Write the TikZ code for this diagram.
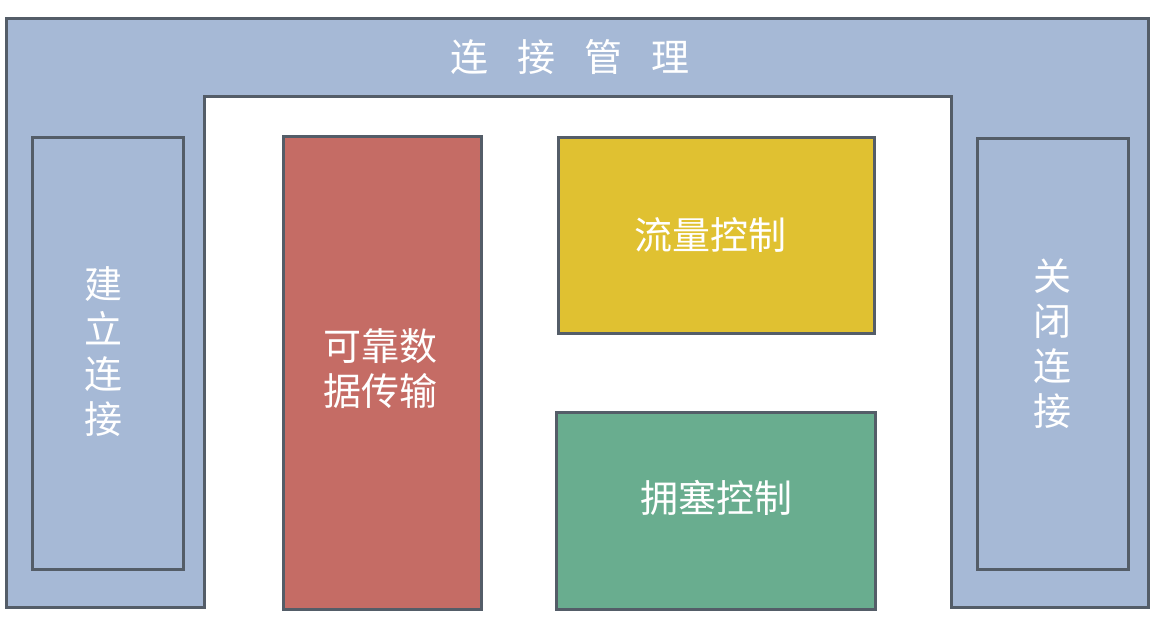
\documentclass[tikz,border=0pt]{standalone}
\usepackage{fontspec}
\setmainfont{Noto Sans CJK SC}
\definecolor{mgmtblue}{HTML}{A6B9D6}
\definecolor{edge}{HTML}{545D68}
\definecolor{relred}{HTML}{C56C65}
\definecolor{flowyel}{HTML}{E0C131}
\definecolor{conggreen}{HTML}{69AD8F}
\tikzset{
  box/.style={draw=edge, line width=3pt, text=white, inner sep=0pt, anchor=north west},
  lbl/.style={text=white, font=\fontsize{38}{45}\selectfont, align=center, inner sep=0pt}
}
\begin{document}
\begin{tikzpicture}[x=1pt,y=-1pt]
\useasboundingbox (0,0) rectangle (1155,631);
% connection management frame
\draw[fill=mgmtblue, draw=edge, line width=3pt, line join=miter]
  (6,19) -- (1148,19) -- (1148,607) -- (951,607) -- (951,97) -- (204,97) -- (204,607) -- (6,607) -- cycle;
\node[lbl] (title) at (570,57) {连\hspace{29pt}接\hspace{29pt}管\hspace{29pt}理};
% inner boxes
\node[box, fill=mgmtblue, minimum width=151pt, minimum height=432pt] (open) at (31,136) {};
\node[lbl] (openl) at (103,352) {建\\立\\连\\接};
\node[box, fill=mgmtblue, minimum width=151pt, minimum height=431pt] (close) at (976,137) {};
\node[lbl] (closel) at (1052,344) {关\\闭\\连\\接};
\node[box, fill=relred, minimum width=198pt, minimum height=473pt] (rel) at (282,135) {};
\node[lbl] (rell) at (380,369) {可靠数\\据传输};
\node[box, fill=flowyel, minimum width=316pt, minimum height=196pt] (flow) at (557,136) {};
\node[lbl] (flowl) at (710,235) {流量控制};
\node[box, fill=conggreen, minimum width=319pt, minimum height=197pt] (cong) at (555,411) {};
\node[lbl] (congl) at (716,498) {拥塞控制};
\end{tikzpicture}
\end{document}
